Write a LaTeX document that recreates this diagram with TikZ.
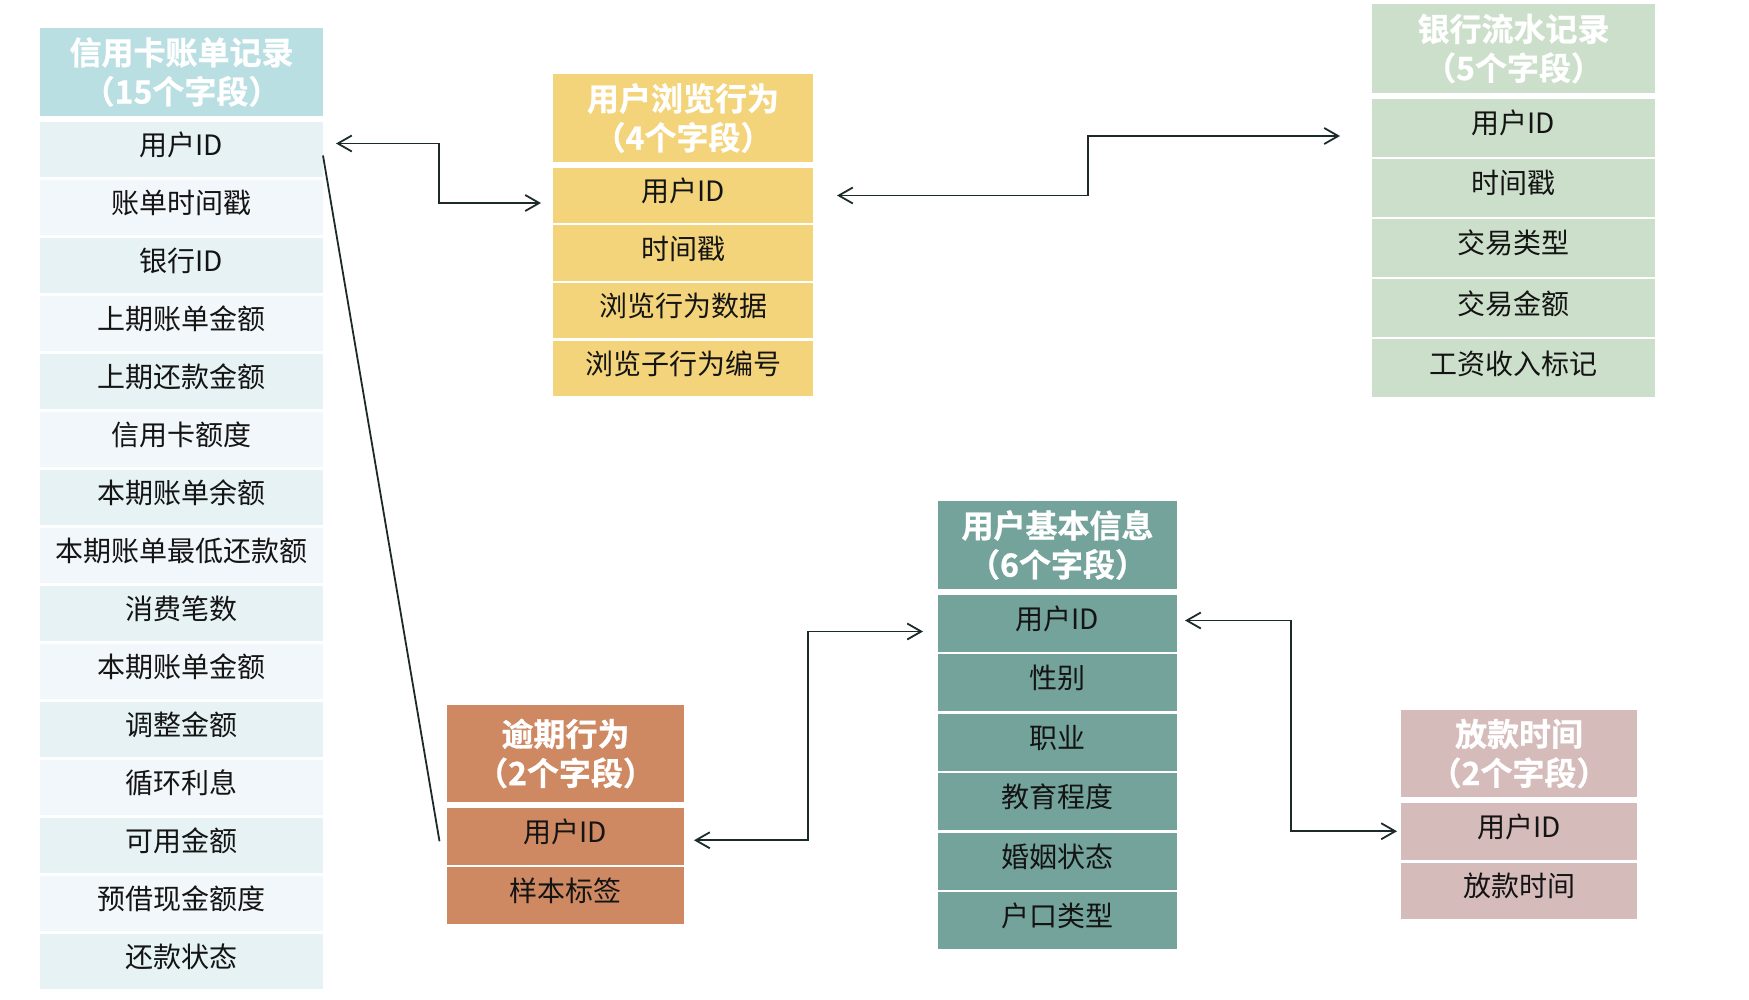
\documentclass[tikz,border=0pt]{standalone}
\usepackage{fontspec}
\setmainfont{Noto Sans CJK SC}[BoldFont={* Bold}, BoldFeatures={FakeBold=0.8}]
\usepackage{xcolor}
\definecolor{CardHead}{HTML}{B9DFE3}
\definecolor{CardRowA}{HTML}{E6F2F4}
\definecolor{CardRowB}{HTML}{F1F7FA}
\definecolor{BrowseFill}{HTML}{F4D47A}
\definecolor{BankFill}{HTML}{CCDFCA}
\definecolor{OverdueFill}{HTML}{CE8962}
\definecolor{UserFill}{HTML}{74A39B}
\definecolor{LoanFill}{HTML}{D6BBBB}
\definecolor{TextDark}{HTML}{141414}
\definecolor{LinkDark}{HTML}{1C2A2A}
\usepackage{tikz}
\usetikzlibrary{positioning, arrows.meta}

\begin{document}
\begin{tikzpicture}[
  x=0.5pt, y=-0.5pt,
  head/.style  = {fill=#1, text=white, align=center, inner sep=0pt, outer sep=0pt,
                  font=\bfseries\fontsize{16}{19.5}\selectfont, anchor=north west},
  field/.style = {fill=#1, text=TextDark, inner sep=0pt, outer sep=0pt,
                  text height=10pt, text depth=4pt,
                  font=\fontsize{14}{16}\selectfont},
  ccbox/.style = {minimum width=141.5pt, minimum height=27.5pt},
  brbox/.style = {minimum width=130pt, minimum height=27.5pt},
  bkbox/.style = {minimum width=141.5pt, minimum height=29pt},
  odbox/.style = {minimum width=118.5pt, minimum height=28.25pt},
  uibox/.style = {minimum width=119.5pt, minimum height=28.5pt},
  lnbox/.style = {minimum width=118pt, minimum height=28.25pt},
  link/.style  = {{Straight Barb[length=7pt,width=8pt]}-{Straight Barb[length=7pt,width=8pt]},
                  line width=0.9pt, color=LinkDark},
  plain/.style = {line width=0.9pt, color=LinkDark}
]
  \useasboundingbox (0,0) rectangle (1749,1000);

  % Credit card bill records (15 fields)
  \node[head=CardHead, ccbox, minimum height=44pt] (cc) at (40,28) {信用卡账单记录\\（15个字段）};
  \node[field=CardRowA, ccbox, below=3pt of cc] (cc1) {用户ID};
  \node[field=CardRowB, ccbox, below=1.5pt of cc1] (cc2) {账单时间戳};
  \node[field=CardRowA, ccbox, below=1.5pt of cc2] (cc3) {银行ID};
  \node[field=CardRowB, ccbox, below=1.5pt of cc3] (cc4) {上期账单金额};
  \node[field=CardRowA, ccbox, below=1.5pt of cc4] (cc5) {上期还款金额};
  \node[field=CardRowB, ccbox, below=1.5pt of cc5] (cc6) {信用卡额度};
  \node[field=CardRowA, ccbox, below=1.5pt of cc6] (cc7) {本期账单余额};
  \node[field=CardRowB, ccbox, below=1.5pt of cc7] (cc8) {本期账单最低还款额};
  \node[field=CardRowA, ccbox, below=1.5pt of cc8] (cc9) {消费笔数};
  \node[field=CardRowB, ccbox, below=1.5pt of cc9] (cc10) {本期账单金额};
  \node[field=CardRowA, ccbox, below=1.5pt of cc10] (cc11) {调整金额};
  \node[field=CardRowB, ccbox, below=1.5pt of cc11] (cc12) {循环利息};
  \node[field=CardRowA, ccbox, below=1.5pt of cc12] (cc13) {可用金额};
  \node[field=CardRowB, ccbox, below=1.5pt of cc13] (cc14) {预借现金额度};
  \node[field=CardRowA, ccbox, below=1.5pt of cc14] (cc15) {还款状态};

  % Browsing behaviour (4 fields)
  \node[head=BrowseFill, brbox, minimum height=44pt] (br) at (553,74) {用户浏览行为\\（4个字段）};
  \node[field=BrowseFill, brbox, below=3pt of br] (br1) {用户ID};
  \node[field=BrowseFill, brbox, below=1.25pt of br1] (br2) {时间戳};
  \node[field=BrowseFill, brbox, below=1.25pt of br2] (br3) {浏览行为数据};
  \node[field=BrowseFill, brbox, below=1.25pt of br3] (br4) {浏览子行为编号};

  % Bank statement records (5 fields)
  \node[head=BankFill, bkbox, minimum height=44.5pt] (bk) at (1372,4) {银行流水记录\\（5个字段）};
  \node[field=BankFill, bkbox, below=3pt of bk] (bk1) {用户ID};
  \node[field=BankFill, bkbox, below=1pt of bk1] (bk2) {时间戳};
  \node[field=BankFill, bkbox, below=1pt of bk2] (bk3) {交易类型};
  \node[field=BankFill, bkbox, below=1pt of bk3] (bk4) {交易金额};
  \node[field=BankFill, bkbox, below=1pt of bk4] (bk5) {工资收入标记};

  % Overdue behaviour (2 fields)
  \node[head=OverdueFill, odbox, minimum height=48.5pt] (od) at (447,705) {逾期行为\\（2个字段）};
  \node[field=OverdueFill, odbox, below=3pt of od] (od1) {用户ID};
  \node[field=OverdueFill, odbox, below=1.25pt of od1] (od2) {样本标签};

  % User basic info (6 fields)
  \node[head=UserFill, uibox, minimum height=44pt] (ui) at (938,501) {用户基本信息\\（6个字段）};
  \node[field=UserFill, uibox, below=3pt of ui] (ui1) {用户ID};
  \node[field=UserFill, uibox, below=1.2pt of ui1] (ui2) {性别};
  \node[field=UserFill, uibox, below=1.2pt of ui2] (ui3) {职业};
  \node[field=UserFill, uibox, below=1.2pt of ui3] (ui4) {教育程度};
  \node[field=UserFill, uibox, below=1.2pt of ui4] (ui5) {婚姻状态};
  \node[field=UserFill, uibox, below=1.2pt of ui5] (ui6) {户口类型};

  % Loan time (2 fields)
  \node[head=LoanFill, lnbox, minimum height=43.5pt] (ln) at (1401,710) {放款时间\\（2个字段）};
  \node[field=LoanFill, lnbox, below=3pt of ln] (ln1) {用户ID};
  \node[field=LoanFill, lnbox, below=1.5pt of ln1] (ln2) {放款时间};

  % Links between the user ID fields
  \draw[link] ([xshift=6.5pt,yshift=3pt]cc1.east) -- ++(103,0) |- ([xshift=-6pt,yshift=-3.75pt]br1.west);
  \draw[link] ([xshift=12pt]br1.east) -- ++(251,0) |- ([xshift=-16pt,yshift=-4pt]bk1.west);
  \draw[link] ([xshift=5pt,yshift=-2pt]od1.east) -- ++(114,0) |- ([xshift=-7.5pt,yshift=-4pt]ui1.west);
  \draw[link] ([xshift=4pt,yshift=1.5pt]ui1.east) -- ++(106,0) |- ([xshift=-2pt]ln1.west);
  \draw[plain] ([yshift=-3pt]cc1.east) -- ([xshift=-3.75pt,yshift=-2.5pt]od1.west);

\end{tikzpicture}
\end{document}
